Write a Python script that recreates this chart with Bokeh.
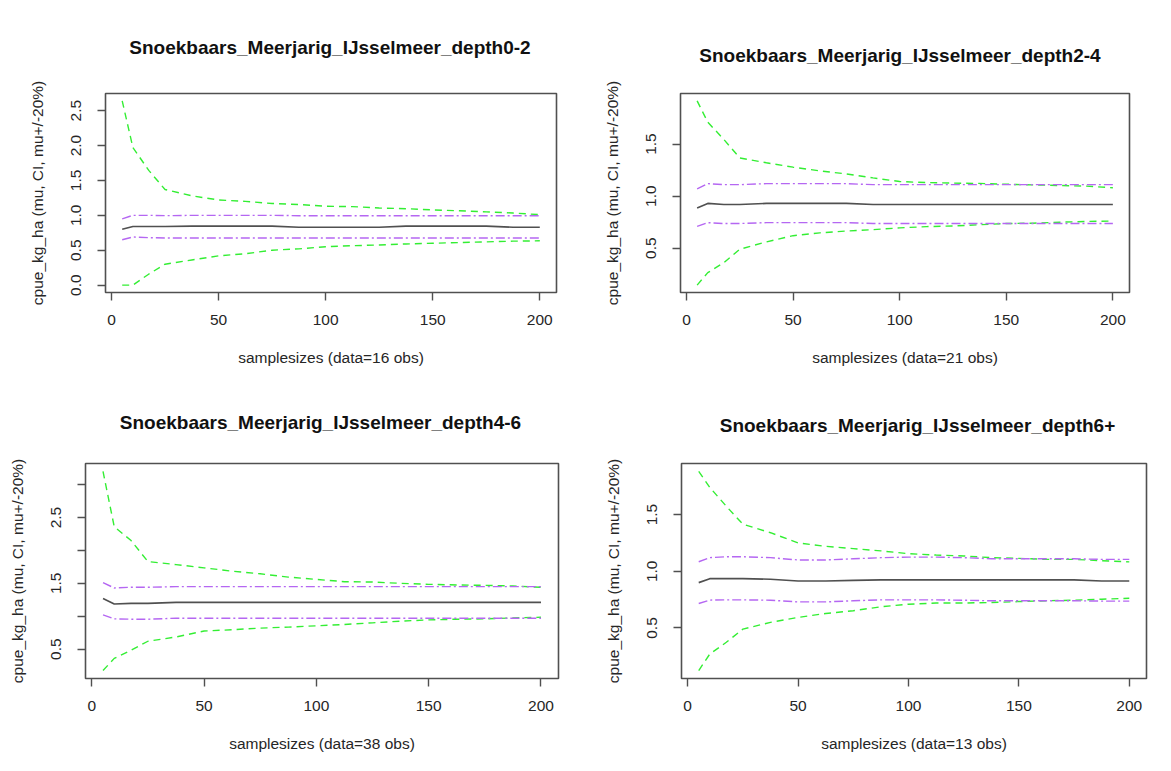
from bokeh.plotting import figure
from bokeh.layouts import column, row
from bokeh.models import Range1d, FixedTicker, NumeralTickFormatter, Div
from bokeh.embed import file_html
from bokeh.resources import INLINE

# sample sizes (x axis)
samplesizes = [5, 10, 17.5, 25, 37.5, 50, 62.5, 75, 87.5, 100, 112.5, 125, 137.5, 150, 162.5, 175, 187.5, 200]
x_ticks = [0, 50, 100, 150, 200]

# depth 0-2 (data = 16 obs)
d02_mu = [0.80, 0.84, 0.84, 0.84, 0.845, 0.845, 0.845, 0.845, 0.83, 0.83, 0.83, 0.83, 0.845, 0.845, 0.845, 0.845, 0.83, 0.83]
d02_ci_hi = [2.64, 1.97, 1.64, 1.37, 1.28, 1.22, 1.20, 1.17, 1.155, 1.13, 1.125, 1.105, 1.095, 1.078, 1.065, 1.05, 1.033, 1.01]
d02_ci_lo = [0.0, 0.0, 0.16, 0.30, 0.36, 0.42, 0.45, 0.50, 0.52, 0.55, 0.565, 0.575, 0.59, 0.60, 0.61, 0.62, 0.63, 0.635]
d02_p_hi = [0.95, 1.00, 1.00, 0.995, 1.00, 1.00, 1.00, 1.00, 0.995, 0.995, 0.995, 0.995, 0.995, 0.995, 0.995, 0.995, 0.995, 0.995]
d02_p_lo = [0.65, 0.69, 0.68, 0.675, 0.675, 0.675, 0.675, 0.675, 0.675, 0.675, 0.675, 0.675, 0.675, 0.675, 0.675, 0.675, 0.675, 0.675]

# depth 2-4 (data = 21 obs)
d24_mu = [0.885, 0.93, 0.92, 0.92, 0.93, 0.93, 0.93, 0.93, 0.92, 0.92, 0.92, 0.92, 0.92, 0.92, 0.92, 0.92, 0.92, 0.92]
d24_ci_hi = [1.915, 1.71, 1.545, 1.367, 1.32, 1.278, 1.243, 1.213, 1.175, 1.14, 1.13, 1.125, 1.122, 1.114, 1.108, 1.102, 1.096, 1.08]
d24_ci_lo = [0.145, 0.265, 0.36, 0.49, 0.56, 0.62, 0.647, 0.665, 0.678, 0.695, 0.707, 0.713, 0.725, 0.737, 0.74, 0.749, 0.757, 0.76]
d24_p_hi = [1.07, 1.12, 1.11, 1.11, 1.12, 1.12, 1.12, 1.12, 1.11, 1.11, 1.11, 1.11, 1.11, 1.11, 1.11, 1.11, 1.11, 1.11]
d24_p_lo = [0.71, 0.745, 0.737, 0.737, 0.745, 0.745, 0.745, 0.745, 0.737, 0.737, 0.737, 0.737, 0.737, 0.737, 0.737, 0.737, 0.737, 0.737]

# depth 4-6 (data = 38 obs)
d46_mu = [1.27, 1.185, 1.195, 1.195, 1.21, 1.21, 1.21, 1.21, 1.21, 1.21, 1.21, 1.21, 1.21, 1.21, 1.21, 1.21, 1.21, 1.21]
d46_ci_hi = [3.20, 2.36, 2.15, 1.83, 1.785, 1.735, 1.685, 1.645, 1.595, 1.56, 1.525, 1.52, 1.50, 1.485, 1.475, 1.47, 1.46, 1.44]
d46_ci_lo = [0.175, 0.36, 0.485, 0.62, 0.685, 0.775, 0.795, 0.82, 0.835, 0.855, 0.875, 0.90, 0.925, 0.945, 0.955, 0.96, 0.975, 0.985]
d46_p_hi = [1.51, 1.43, 1.44, 1.44, 1.45, 1.45, 1.45, 1.45, 1.45, 1.45, 1.45, 1.45, 1.45, 1.45, 1.45, 1.45, 1.45, 1.45]
d46_p_lo = [1.02, 0.96, 0.955, 0.955, 0.97, 0.97, 0.97, 0.97, 0.97, 0.97, 0.97, 0.97, 0.97, 0.97, 0.97, 0.97, 0.97, 0.97]

# depth 6+ (data = 13 obs)
d6_mu = [0.90, 0.935, 0.935, 0.935, 0.93, 0.915, 0.915, 0.92, 0.924, 0.924, 0.924, 0.924, 0.924, 0.924, 0.924, 0.924, 0.915, 0.915]
d6_ci_hi = [1.88, 1.74, 1.573, 1.415, 1.34, 1.25, 1.22, 1.20, 1.18, 1.155, 1.143, 1.135, 1.12, 1.114, 1.105, 1.105, 1.093, 1.083]
d6_ci_lo = [0.125, 0.27, 0.374, 0.49, 0.55, 0.593, 0.628, 0.652, 0.687, 0.71, 0.72, 0.72, 0.725, 0.733, 0.74, 0.745, 0.754, 0.762]
d6_p_hi = [1.084, 1.12, 1.128, 1.128, 1.12, 1.10, 1.10, 1.11, 1.12, 1.125, 1.125, 1.12, 1.11, 1.11, 1.11, 1.11, 1.105, 1.105]
d6_p_lo = [0.716, 0.746, 0.748, 0.748, 0.745, 0.73, 0.73, 0.74, 0.748, 0.748, 0.748, 0.745, 0.74, 0.74, 0.74, 0.74, 0.737, 0.737]

titles = ["Snoekbaars_Meerjarig_IJsselmeer_depth0-2", "Snoekbaars_Meerjarig_IJsselmeer_depth2-4",
          "Snoekbaars_Meerjarig_IJsselmeer_depth4-6", "Snoekbaars_Meerjarig_IJsselmeer_depth6+"]
xlabels = ["samplesizes (data=16 obs)", "samplesizes (data=21 obs)",
           "samplesizes (data=38 obs)", "samplesizes (data=13 obs)"]
ylabel = "cpue_kg_ha (mu, CI, mu+/-20%)"

FONT = "Liberation Sans"
TXT = "#262626"
BOX = "#505050"


def title_div(text, w, h, pad_top, pad_left, pad_right):
    inner_w = w - pad_left - pad_right
    html = ('<div style="display:block;box-sizing:content-box;margin:0;padding:%dpx 0 0 %dpx;width:%dpx;'
            'font-family:\'Liberation Sans\',Arial,sans-serif;font-size:19px;font-weight:bold;'
            'color:#111111;text-align:center;line-height:22px;white-space:nowrap;">%s</div>'
            % (pad_top, pad_left, inner_w, text))
    return Div(text=html, width=w, height=h, margin=0)


def panel(xlabel, mu, hi, lo, phi, plo, yticks, yminor, w, h, bl, br, bt, bb):
    allv = mu + hi + lo + phi + plo
    ymin, ymax = min(allv), max(allv)
    pad = 0.04 * (ymax - ymin)
    xmin, xmax = min(samplesizes), max(samplesizes)
    xpad = 0.04 * (xmax - xmin)
    p = figure(width=w, height=h,
               x_range=Range1d(xmin - xpad, xmax + xpad),
               y_range=Range1d(ymin - pad, ymax + pad),
               output_backend="svg", toolbar_location=None,
               min_border_left=bl, min_border_right=br,
               min_border_top=bt, min_border_bottom=bb)
    p.background_fill_color = "white"
    p.border_fill_color = "white"
    p.outline_line_color = BOX
    p.outline_line_width = 1.6
    p.grid.visible = False

    p.line(samplesizes, hi, line_color="#33ee33", line_width=1.4, line_dash="7 5")
    p.line(samplesizes, lo, line_color="#33ee33", line_width=1.4, line_dash="7 5")
    p.line(samplesizes, phi, line_color="#b567f2", line_width=1.4, line_dash="9 3 2 3")
    p.line(samplesizes, plo, line_color="#b567f2", line_width=1.4, line_dash="9 3 2 3")
    p.line(samplesizes, mu, line_color="#505050", line_width=1.6)

    for ax in (p.xaxis[0], p.yaxis[0]):
        ax.axis_line_color = None
        ax.major_tick_line_color = BOX
        ax.major_tick_line_width = 1.4
        ax.major_tick_out = 8
        ax.major_tick_in = 0
        ax.minor_tick_line_color = BOX
        ax.minor_tick_line_width = 1.4
        ax.minor_tick_out = 8
        ax.minor_tick_in = 0
        ax.major_label_text_font = FONT
        ax.major_label_text_font_size = "15.5px"
        ax.major_label_text_color = TXT
        ax.axis_label_text_font = FONT
        ax.axis_label_text_font_size = "15.5px"
        ax.axis_label_text_font_style = "normal"
        ax.axis_label_text_color = TXT

    p.xaxis.ticker = FixedTicker(ticks=x_ticks, minor_ticks=[])
    p.xaxis.major_label_standoff = 14
    p.xaxis.axis_label = xlabel
    p.xaxis.axis_label_standoff = 21

    p.yaxis.ticker = FixedTicker(ticks=yticks, minor_ticks=yminor)
    p.yaxis.formatter = NumeralTickFormatter(format="0.0")
    p.yaxis.major_label_orientation = "vertical"
    p.yaxis.major_label_standoff = 16
    p.yaxis.axis_label = ylabel
    p.yaxis.axis_label_standoff = 23
    return p


# title row (top)
t1 = title_div(titles[0], 600, 68, 37, 105, 45)
t2 = title_div(titles[1], 563, 68, 45, 63, 26)
# plot row (top)
p1 = panel(xlabels[0], d02_mu, d02_ci_hi, d02_ci_lo, d02_p_hi, d02_p_lo,
           [0.0, 0.5, 1.0, 1.5, 2.0, 2.5], [], 600, 317, 105, 44, 16, 93)
p2 = panel(xlabels[1], d24_mu, d24_ci_hi, d24_ci_lo, d24_p_hi, d24_p_lo,
           [0.5, 1.0, 1.5], [], 563, 317, 63, 34, 25, 78)
# title row (bottom)
t3 = title_div(titles[2], 600, 53, 27, 85, 44)
t4 = title_div(titles[3], 563, 53, 30, 81, 9)
# plot row (bottom)
p3 = panel(xlabels[2], d46_mu, d46_ci_hi, d46_ci_lo, d46_p_hi, d46_p_lo,
           [0.5, 1.5, 2.5], [1.0, 2.0, 3.0], 600, 325, 85, 42, 24, 84)
p4 = panel(xlabels[3], d6_mu, d6_ci_hi, d6_ci_lo, d6_p_hi, d6_p_lo,
           [0.5, 1.0, 1.5], [], 563, 325, 81, 17, 25, 85)

layout = column(row(t1, t2, spacing=0), row(p1, p2, spacing=0),
                row(t3, t4, spacing=0), row(p3, p4, spacing=0), spacing=0)
open("out.html", "w").write(file_html(layout, INLINE))
